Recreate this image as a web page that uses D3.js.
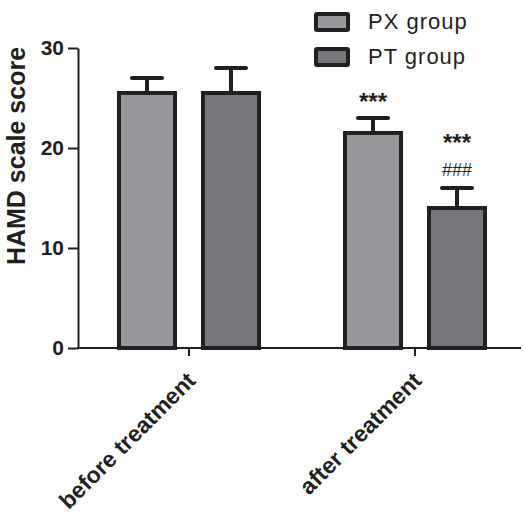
<!DOCTYPE html>
<html><head><meta charset="utf-8">
<script src="https://cdn.jsdelivr.net/npm/d3@7"></script>
<style>body{margin:0;background:#fff}svg{display:block}text{font-family:"Liberation Sans",Arial,sans-serif;fill:#231f20}</style>
</head><body><svg id="c" width="525" height="519"></svg>
<script>
const categories = ["before treatment", "after treatment"];
const seriesNames = ["PX group", "PT group"];
const pxMeans = [25.5, 21.5];
const pxErrors = [1.5, 1.5];
const ptMeans = [25.5, 14.0];
const ptErrors = [2.5, 2.0];
const yTicks = [0, 10, 20, 30];
const annotations = [
  {cat: 1, series: 0, lines: ["***"]},
  {cat: 1, series: 1, lines: ["###", "***"]}
];
const colors = ["#97989b", "#76777b"];
const ink = "#231f20";

const data = [];
categories.forEach((c, i) => {
  data.push({cat: c, ci: i, s: 0, v: pxMeans[i], e: pxErrors[i]});
  data.push({cat: c, ci: i, s: 1, v: ptMeans[i], e: ptErrors[i]});
});

const svg = d3.select("#c");
const y = d3.scaleLinear().domain([0, 30]).range([348, 48]);
const x0 = d3.scaleBand().domain(categories).range([76, 528]).padding(0);
const x1 = d3.scaleBand().domain([0, 1]).range([0, x0.bandwidth()]).paddingInner(0.333).paddingOuter(0.512);

// bars
const g = svg.append("g");
g.selectAll("rect.bar").data(data).join("rect")
  .attr("x", d => x0(d.cat) + x1(d.s))
  .attr("y", d => y(d.v))
  .attr("width", x1.bandwidth())
  .attr("height", d => y(0) - y(d.v))
  .attr("fill", d => colors[d.s])
  .attr("stroke", ink).attr("stroke-width", 4);

// error bars
const cx = d => x0(d.cat) + x1(d.s) + x1.bandwidth() / 2;
g.selectAll("line.err").data(data).join("line")
  .attr("x1", cx).attr("x2", cx)
  .attr("y1", d => y(d.v) - 2).attr("y2", d => y(d.v + d.e))
  .attr("stroke", ink).attr("stroke-width", 4);
g.selectAll("line.cap").data(data).join("line")
  .attr("x1", d => cx(d) - 15).attr("x2", d => cx(d) + 15)
  .attr("y1", d => y(d.v + d.e)).attr("y2", d => y(d.v + d.e))
  .attr("stroke", ink).attr("stroke-width", 4).attr("stroke-linecap", "round");

// annotations
annotations.forEach(a => {
  const d = data.find(r => r.ci === a.cat && r.s === a.series);
  a.lines.forEach((t, k) => {
    const isStar = t.startsWith("*");
    svg.append("text")
      .attr("x", cx(d))
      .attr("y", y(d.v + d.e) - (isStar ? 8 : 12) - k * 29)
      .attr("text-anchor", "middle")
      .attr("font-size", isStar ? 24 : 18)
      .attr("font-weight", isStar ? "bold" : "normal")
      .text(t);
  });
});

// y axis
const yAxis = svg.append("g").attr("transform", "translate(78,0)")
  .call(d3.axisLeft(y).tickValues(yTicks).tickSize(10).tickPadding(4).tickSizeOuter(0));
yAxis.select(".domain").attr("stroke", ink).attr("stroke-width", 2);
yAxis.selectAll(".tick line").attr("stroke", ink).attr("stroke-width", 2);
yAxis.selectAll(".tick text").attr("font-size", 21).attr("font-weight", "bold")
  .attr("font-family", "Liberation Sans, Arial, sans-serif").attr("fill", ink);

// x axis
const xAxis = svg.append("g").attr("transform", "translate(0,348)");
xAxis.append("line").attr("x1", 77).attr("x2", 521).attr("y1", 0).attr("y2", 0)
  .attr("stroke", ink).attr("stroke-width", 2);
xAxis.selectAll("line.t").data(categories).join("line")
  .attr("x1", d => x0(d) + x0.bandwidth() / 2).attr("x2", d => x0(d) + x0.bandwidth() / 2)
  .attr("y1", 0).attr("y2", 8).attr("stroke", ink).attr("stroke-width", 2);
xAxis.selectAll("text").data(categories).join("text")
  .attr("transform", d => `translate(${x0(d) + x0.bandwidth() / 2 + 8},${34}) rotate(-45)`)
  .attr("text-anchor", "end")
  .attr("font-size", 23).attr("font-weight", "bold")
  .text(d => d);

// y label
svg.append("text")
  .attr("transform", "translate(25,156) rotate(-90)")
  .attr("text-anchor", "middle")
  .attr("font-size", 25).attr("font-weight", "bold")
  .text("HAMD scale score");

// legend
const leg = svg.append("g");
seriesNames.forEach((n, i) => {
  leg.append("rect").attr("x", 316).attr("y", 14 + i * 35).attr("width", 32).attr("height", 16)
    .attr("fill", colors[i]).attr("stroke", ink).attr("stroke-width", 4).attr("rx", 1);
  leg.append("text").attr("x", 368).attr("y", 29 + i * 35).attr("font-size", 22)
    .attr("letter-spacing", 1).text(n);
});
</script></body></html>
